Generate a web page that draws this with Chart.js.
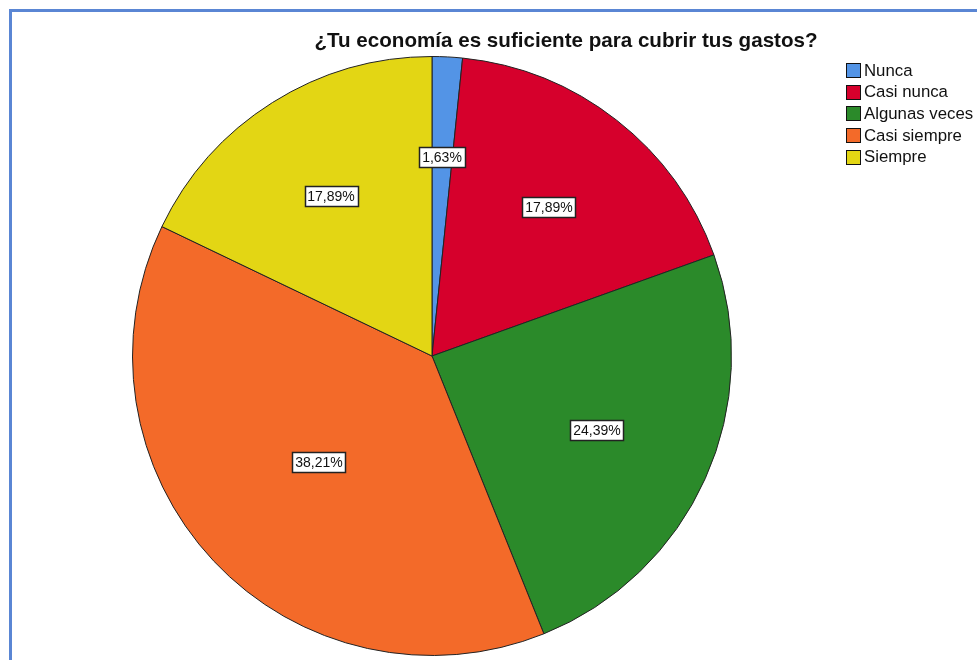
<!DOCTYPE html>
<html>
<head>
<meta charset="utf-8">
<script src="https://cdn.jsdelivr.net/npm/chart.js@4/dist/chart.umd.min.js"></script>
<style>
  html, body { margin: 0; padding: 0; background: #fff; overflow: hidden; }
  #wrap { position: relative; width: 977px; height: 660px; }
  #frame { position: absolute; left: 9px; top: 9px; width: 1200px; height: 900px;
           border-left: 3px solid #5a86d4; border-top: 3px solid #5a86d4; box-sizing: border-box; }
  #c { position: absolute; left: 0; top: 0; }
</style>
</head>
<body>
<div id="wrap">
  <div id="frame"></div>
  <canvas id="c" width="977" height="660"></canvas>
</div>
<script>
const chartTitle = "¿Tu economía es suficiente para cubrir tus gastos?";
const categories = ["Nunca", "Casi nunca", "Algunas veces", "Casi siempre", "Siempre"];
const percentages = [1.63, 17.89, 24.39, 38.21, 17.89];
const sliceColors = ["#5394e6", "#d6002c", "#2b8a2a", "#f36a29", "#e3d614"];

const FONT = '"Liberation Sans", Arial, sans-serif';

const labelPlugin = {
  id: 'sliceLabels',
  afterDatasetsDraw(chart) {
    const ctx = chart.ctx;
    const meta = chart.getDatasetMeta(0);
    ctx.save();
    ctx.font = '14px ' + FONT;
    ctx.textBaseline = 'middle';
    ctx.textAlign = 'center';
    meta.data.forEach((arc, i) => {
      const p = arc.getProps(['x', 'y', 'startAngle', 'endAngle', 'outerRadius'], true);
      const half = (p.endAngle - p.startAngle) / 2;
      const mid = p.startAngle + half;
      const rc = half > 1e-6 ? (2 * p.outerRadius * Math.sin(half)) / (3 * half) : 2 * p.outerRadius / 3;
      const cx = p.x + Math.cos(mid) * rc;
      const cy = p.y + Math.sin(mid) * rc;
      const txt = percentages[i].toFixed(2).replace('.', ',') + '%';
      const w = Math.round(ctx.measureText(txt).width) + 6;
      const h = 20;
      const bx = Math.round(cx - w / 2) + 0.5, by = Math.round(cy - h / 2) + 0.5;
      ctx.fillStyle = '#ffffff';
      ctx.fillRect(bx, by, w, h);
      ctx.strokeStyle = '#222222';
      ctx.lineWidth = 1.5;
      ctx.strokeRect(bx, by, w, h);
      ctx.fillStyle = '#111111';
      ctx.fillText(txt, Math.round(cx), Math.round(cy) + 1);
    });
    ctx.restore();
  }
};

const legendPlugin = {
  id: 'sideLegend',
  afterDraw(chart) {
    const ctx = chart.ctx;
    ctx.save();
    ctx.font = '16.8px ' + FONT;
    ctx.textBaseline = 'middle';
    ctx.textAlign = 'left';
    const x0 = 846, y0 = 70, step = 21.7, box = 14;
    chart.data.labels.forEach((lab, i) => {
      const cy = y0 + i * step;
      const by = Math.round(cy - box / 2) + 0.5;
      ctx.fillStyle = sliceColors[i];
      ctx.fillRect(x0 + 0.5, by, box, box);
      ctx.strokeStyle = '#111';
      ctx.lineWidth = 1;
      ctx.strokeRect(x0 + 0.5, by, box, box);
      ctx.fillStyle = '#111';
      ctx.fillText(lab, x0 + box + 4, cy + 1);
    });
    // title
    ctx.font = 'bold 20.6px ' + FONT;
    ctx.textAlign = 'center';
    ctx.fillText(chartTitle, 566, 41);
    ctx.restore();
  }
};

new Chart(document.getElementById('c'), {
  type: 'pie',
  data: {
    labels: categories,
    datasets: [{
      data: percentages,
      backgroundColor: sliceColors,
      borderColor: '#222222',
      borderWidth: 1,
      hoverOffset: 0
    }]
  },
  options: {
    responsive: false,
    animation: false,
    events: [],
    layout: { padding: { left: 10, right: 123, top: 56, bottom: 4 } },
    plugins: {
      legend: { display: false },
      title: { display: false },
      tooltip: { enabled: false }
    }
  },
  plugins: [labelPlugin, legendPlugin]
});
</script>
</body>
</html>
